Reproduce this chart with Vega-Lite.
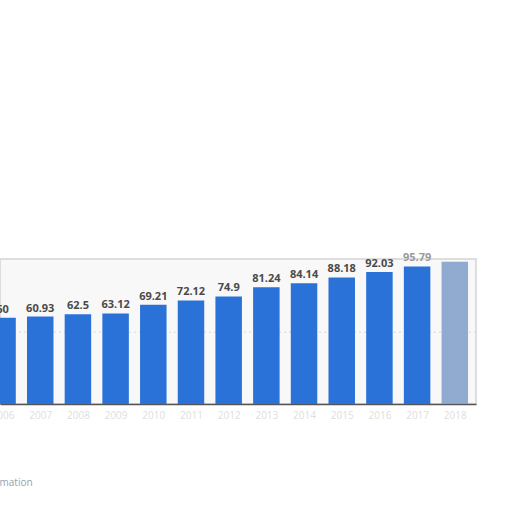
{
  "$schema": "https://vega.github.io/schema/vega-lite/v6.json",
  "width": 476,
  "height": 145,
  "autosize": {"type": "none"},
  "padding": {"left": 0, "top": 259, "right": 36, "bottom": 108},
  "background": "white",
  "title": {
    "text": "Additional Information",
    "orient": "bottom",
    "anchor": "start",
    "dx": -64,
    "offset": 58,
    "font": "Open Sans",
    "fontSize": 10,
    "fontWeight": "normal",
    "color": "#8fa3b5"
  },
  "data": {
    "values": [
      {"year": 2006, "value": 60},
      {"year": 2007, "value": 60.93},
      {"year": 2008, "value": 62.5},
      {"year": 2009, "value": 63.12},
      {"year": 2010, "value": 69.21},
      {"year": 2011, "value": 72.12},
      {"year": 2012, "value": 74.9},
      {"year": 2013, "value": 81.24},
      {"year": 2014, "value": 84.14},
      {"year": 2015, "value": 88.18},
      {"year": 2016, "value": 92.03},
      {"year": 2017, "value": 95.79},
      {"year": 2018, "value": 99}
    ]
  },
  "encoding": {
    "x": {
      "field": "year",
      "type": "quantitative",
      "scale": {"domain": [2006.065, 2018.43], "nice": false, "zero": false},
      "axis": {
        "title": null,
        "values": [2006, 2007, 2008, 2009, 2010, 2011, 2012, 2013, 2014, 2015, 2016, 2017, 2018],
        "format": "d",
        "grid": false,
        "ticks": false,
        "domainColor": "#555555",
        "domainWidth": 1.5,
        "labelColor": "#dedede",
        "labelFont": "Open Sans",
        "labelFontSize": 10,
        "labelPadding": 6,
        "labelOverlap": false
      }
    },
    "y": {
      "field": "value",
      "type": "quantitative",
      "scale": {"domain": [0, 101], "nice": false},
      "axis": null
    }
  },
  "layer": [
    {
      "mark": {"type": "rule", "strokeDash": [2, 3], "color": "#d8d8d8", "strokeWidth": 1},
      "data": {"values": [{"grid": 50}]},
      "encoding": {
        "y": {"field": "grid", "type": "quantitative"},
        "x": null
      }
    },
    {
      "mark": {"type": "bar", "width": 26.5, "clip": true},
      "encoding": {
        "color": {
          "condition": {"test": "datum.year == 2018", "value": "#7f9cc8"},
          "value": "#2a72d8"
        },
        "opacity": {
          "condition": {"test": "datum.year == 2018", "value": 0.85},
          "value": 1
        }
      }
    },
    {
      "transform": [{"filter": "datum.year < 2018"}],
      "mark": {
        "type": "text",
        "dy": -8,
        "font": "Open Sans",
        "fontSize": 11,
        "fontWeight": "bold",
        "clip": false
      },
      "encoding": {
        "text": {"field": "value", "type": "quantitative"},
        "color": {
          "condition": {"test": "datum.year == 2017", "value": "#9a9a9a"},
          "value": "#4a4a4a"
        }
      }
    }
  ],
  "config": {
    "view": {"fill": "#f8f8f8", "stroke": "#d4d4d4", "strokeWidth": 1.5}
  }
}
